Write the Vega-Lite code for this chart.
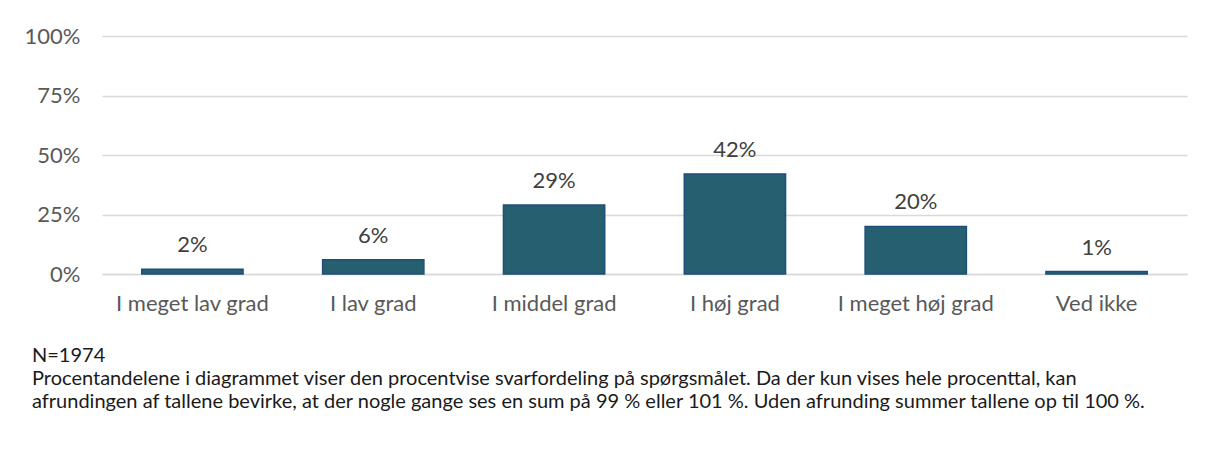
{
  "$schema": "https://vega.github.io/schema/vega-lite/v6.json",
  "width": 1085,
  "height": 238,
  "autosize": {"type": "none"},
  "padding": {"left": 102, "top": 36, "right": 18, "bottom": 186},
  "background": "white",
  "config": {
    "font": "Lato",
    "view": {"stroke": null}
  },
  "title": {
    "text": ["N=1974", "Procentandelene i diagrammet viser den procentvise svarfordeling på spørgsmålet. Da der kun vises hele procenttal, kan", "afrundingen af tallene bevirke, at der nogle gange ses en sum på 99 % eller 101 %. Uden afrunding summer tallene op til 100 %."],
    "orient": "bottom",
    "anchor": "start",
    "frame": "group",
    "dx": -70,
    "offset": 32,
    "fontSize": 20,
    "fontWeight": "normal",
    "color": "#1a1a1a",
    "lineHeight": 23,
    "font": "Lato"
  },
  "data": {
    "values": [
      {"kategori": "I meget lav grad", "andel": 2, "label": "2%"},
      {"kategori": "I lav grad", "andel": 6, "label": "6%"},
      {"kategori": "I middel grad", "andel": 29, "label": "29%"},
      {"kategori": "I høj grad", "andel": 42, "label": "42%"},
      {"kategori": "I meget høj grad", "andel": 20, "label": "20%"},
      {"kategori": "Ved ikke", "andel": 1, "label": "1%"}
    ]
  },
  "encoding": {
    "x": {
      "field": "kategori",
      "type": "nominal",
      "sort": null,
      "scale": {"paddingInner": 0.44, "paddingOuter": 0.22},
      "axis": {
        "title": null,
        "labelAngle": 0,
        "labelFontSize": 22,
        "labelColor": "#595959",
        "labelPadding": 19,
        "ticks": false,
        "domain": true,
        "domainColor": "#d9d9d9",
        "domainWidth": 1.5
      }
    },
    "y": {
      "field": "andel",
      "type": "quantitative",
      "scale": {"domain": [0, 100]},
      "axis": {
        "title": null,
        "values": [0, 25, 50, 75, 100],
        "labelExpr": "datum.value + '%'",
        "labelFontSize": 22,
        "labelColor": "#595959",
        "labelPadding": 22,
        "ticks": false,
        "domain": false,
        "grid": true,
        "gridColor": "#d9d9d9",
        "gridWidth": 1.5
      }
    }
  },
  "layer": [
    {
      "mark": {"type": "bar", "color": "#255f70", "stroke": "#1f4e79", "strokeWidth": 1.5}
    },
    {
      "mark": {"type": "text", "baseline": "alphabetic", "dy": -17, "fontSize": 22, "color": "#404040"},
      "encoding": {"text": {"field": "label"}}
    }
  ]
}
